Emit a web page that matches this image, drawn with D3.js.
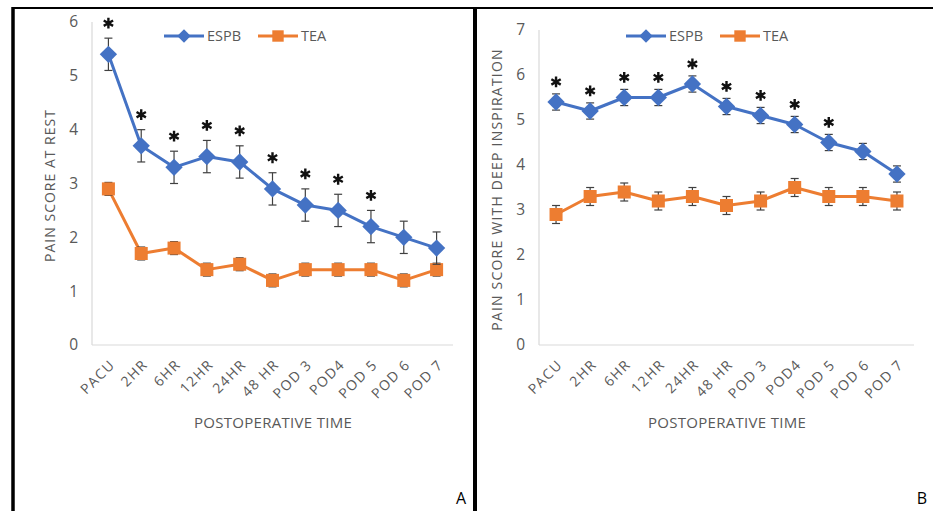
<!DOCTYPE html>
<html>
<head>
<meta charset="utf-8">
<script src="https://cdn.jsdelivr.net/npm/d3@7"></script>
<style>
  body { margin: 0; background: #fff; }
  svg { display: block; font-family: "Open Sans", sans-serif; }
</style>
</head>
<body>
<svg id="chart" width="933" height="511"></svg>
<script>
const categories = ["PACU", "2HR", "6HR", "12HR", "24HR", "48 HR", "POD 3", "POD4", "POD 5", "POD 6", "POD 7"];

// panel A: pain at rest
const restEspb = [5.4, 3.7, 3.3, 3.5, 3.4, 2.9, 2.6, 2.5, 2.2, 2.0, 1.8];
const restEspbErr = [0.3, 0.3, 0.3, 0.3, 0.3, 0.3, 0.3, 0.3, 0.3, 0.3, 0.3];
const restTea = [2.9, 1.7, 1.8, 1.4, 1.5, 1.2, 1.4, 1.4, 1.4, 1.2, 1.4];
const restTeaErr = [0.12, 0.12, 0.12, 0.12, 0.12, 0.12, 0.12, 0.12, 0.12, 0.12, 0.12];
const restSig = [true, true, true, true, true, true, true, true, true, false, false];

// panel B: pain with deep inspiration
const deepEspb = [5.4, 5.2, 5.5, 5.5, 5.8, 5.3, 5.1, 4.9, 4.5, 4.3, 3.8];
const deepEspbErr = [0.18, 0.18, 0.18, 0.18, 0.18, 0.18, 0.18, 0.18, 0.18, 0.18, 0.18];
const deepTea = [2.9, 3.3, 3.4, 3.2, 3.3, 3.1, 3.2, 3.5, 3.3, 3.3, 3.2];
const deepTeaErr = [0.2, 0.2, 0.2, 0.2, 0.2, 0.2, 0.2, 0.2, 0.2, 0.2, 0.2];
const deepSig = [true, true, true, true, true, true, true, true, true, false, false];

const restTicks = [0, 1, 2, 3, 4, 5, 6];
const deepTicks = [0, 1, 2, 3, 4, 5, 6, 7];

const blue = "#4472c4", orange = "#ed7d31", textCol = "#595959", errCol = "#404040";

const svg = d3.select("#chart");

// frame lines
svg.append("line").attr("x1", 12).attr("x2", 933).attr("y1", 8).attr("y2", 8)
  .attr("stroke", "#000").attr("stroke-width", 2);
svg.append("line").attr("x1", 13).attr("x2", 13).attr("y1", 7).attr("y2", 511)
  .attr("stroke", "#000").attr("stroke-width", 3.5);
svg.append("line").attr("x1", 475).attr("x2", 475).attr("y1", 7).attr("y2", 511)
  .attr("stroke", "#000").attr("stroke-width", 4);

// diamond = square turned 45deg
const diamond = {
  draw(ctx, size) {
    const r = Math.sqrt(size / 2);
    ctx.moveTo(0, -r); ctx.lineTo(r, 0); ctx.lineTo(0, r); ctx.lineTo(-r, 0); ctx.closePath();
  }
};

function drawPanel(opts) {
  const { left, right, yMax, top, ticks, espb, espbErr, tea, teaErr, sig, starGap,
          yTitle, yTitleX, yTitleSpacing, legendX, letter, letterX, xTitleX } = opts;
  const bottom = 345;
  const g = svg.append("g");

  const x = d3.scalePoint().domain(categories).range([left, right]).padding(0.5);
  const y = d3.scaleLinear().domain([0, yMax]).range([bottom, top]);

  // axis lines
  g.append("line").attr("x1", left).attr("x2", left).attr("y1", y(yMax)).attr("y2", bottom)
    .attr("stroke", "#d9d9d9").attr("stroke-width", 1.2);
  g.append("line").attr("x1", left).attr("x2", right).attr("y1", bottom).attr("y2", bottom)
    .attr("stroke", "#d9d9d9").attr("stroke-width", 1.2);

  // y tick labels
  g.selectAll(".ytick").data(ticks).join("text")
    .attr("x", left - 14).attr("y", d => y(d)).attr("dy", "0.35em")
    .attr("text-anchor", "end").attr("fill", textCol).attr("font-size", 15.5)
    .text(d => d);

  // x tick labels
  g.selectAll(".xtick").data(categories).join("text")
    .attr("transform", d => `translate(${x(d) + 4},${bottom + 17}) rotate(-45)`)
    .attr("text-anchor", "end").attr("dy", "0.35em")
    .attr("fill", textCol).attr("font-size", 14).attr("letter-spacing", 1.4)
    .text(d => d);

  // axis titles
  g.append("text").attr("x", xTitleX).attr("y", 423).attr("dy", "0.35em")
    .attr("text-anchor", "middle").attr("fill", textCol).attr("font-size", 15)
    .attr("letter-spacing", 0.3)
    .text("POSTOPERATIVE TIME");
  g.append("text")
    .attr("transform", `translate(${yTitleX},${(y(yMax) + bottom) / 2 + 2}) rotate(-90)`)
    .attr("text-anchor", "middle").attr("dy", "0.35em").attr("fill", textCol).attr("font-size", 14)
    .attr("letter-spacing", yTitleSpacing)
    .text(yTitle);

  const line = d3.line().x((d, i) => x(categories[i])).y(d => y(d));

  const series = [
    { vals: tea, err: teaErr, color: orange, sym: d3.symbolSquare, size: 170 },
    { vals: espb, err: espbErr, color: blue, sym: diamond, size: 150 }
  ];

  series.forEach(s => {
    g.append("path").datum(s.vals).attr("d", line)
      .attr("fill", "none").attr("stroke", s.color).attr("stroke-width", 3)
      .attr("stroke-linejoin", "round");
    // error bars
    const eb = g.selectAll(null).data(s.vals).join("g")
      .attr("stroke", errCol).attr("stroke-width", 1.2);
    eb.append("line")
      .attr("x1", (d, i) => x(categories[i])).attr("x2", (d, i) => x(categories[i]))
      .attr("y1", (d, i) => y(d - s.err[i])).attr("y2", (d, i) => y(d + s.err[i]));
    [-1, 1].forEach(sg => {
      eb.append("line")
        .attr("x1", (d, i) => x(categories[i]) - 4).attr("x2", (d, i) => x(categories[i]) + 4)
        .attr("y1", (d, i) => y(d + sg * s.err[i])).attr("y2", (d, i) => y(d + sg * s.err[i]));
    });
    g.selectAll(null).data(s.vals).join("path")
      .attr("transform", (d, i) => `translate(${x(categories[i])},${y(d)})`)
      .attr("d", d3.symbol().type(s.sym).size(s.size))
      .attr("fill", s.color);
  });

  // significance stars
  const starData = espb.map((d, i) => ({ v: d, e: espbErr[i], c: categories[i], s: sig[i] }))
    .filter(d => d.s);
  g.selectAll(".star").data(starData).join("path")
    .attr("transform", d => `translate(${x(d.c)},${y(d.v + d.e) - starGap})`)
    .attr("d", d3.symbol().type(d3.symbolAsterisk).size(82))
    .attr("fill", "none").attr("stroke", "#111").attr("stroke-width", 2.4);

  // legend
  const leg = g.append("g").attr("transform", `translate(${legendX},36)`);
  const items = [
    { name: "ESPB", color: blue, sym: diamond, size: 90, w: 40, off: 0 },
    { name: "TEA", color: orange, sym: d3.symbolSquare, size: 130, w: 40, off: 94 }
  ];
  items.forEach(it => {
    const li = leg.append("g").attr("transform", `translate(${it.off},0)`);
    li.append("line").attr("x1", 0).attr("x2", it.w).attr("stroke", it.color).attr("stroke-width", 3);
    li.append("path").attr("transform", `translate(${it.w / 2},0)`)
      .attr("d", d3.symbol().type(it.sym).size(it.size)).attr("fill", it.color);
    li.append("text").attr("x", it.w + 3).attr("dy", "0.35em")
      .attr("fill", textCol).attr("font-size", 14.5).text(it.name);
  });

  svg.append("text").attr("x", letterX).attr("y", 498).attr("dy", "0.35em")
    .attr("text-anchor", "middle").attr("fill", "#000").attr("font-size", 16).text(letter);
}

drawPanel({
  left: 92, right: 453, yMax: 6, top: 22, ticks: restTicks,
  espb: restEspb, espbErr: restEspbErr, tea: restTea, teaErr: restTeaErr, sig: restSig, starGap: 15,
  yTitle: "PAIN SCORE AT REST", yTitleX: 50, yTitleSpacing: 1, legendX: 164,
  letter: "A", letterX: 461, xTitleX: 273
});

drawPanel({
  left: 539, right: 914, yMax: 7, top: 30, ticks: deepTicks,
  espb: deepEspb, espbErr: deepEspbErr, tea: deepTea, teaErr: deepTeaErr, sig: deepSig, starGap: 12,
  yTitle: "PAIN SCORE WITH DEEP INSPIRATION", yTitleX: 497, yTitleSpacing: 1.2, legendX: 626,
  letter: "B", letterX: 922, xTitleX: 727
});
</script>
</body>
</html>
